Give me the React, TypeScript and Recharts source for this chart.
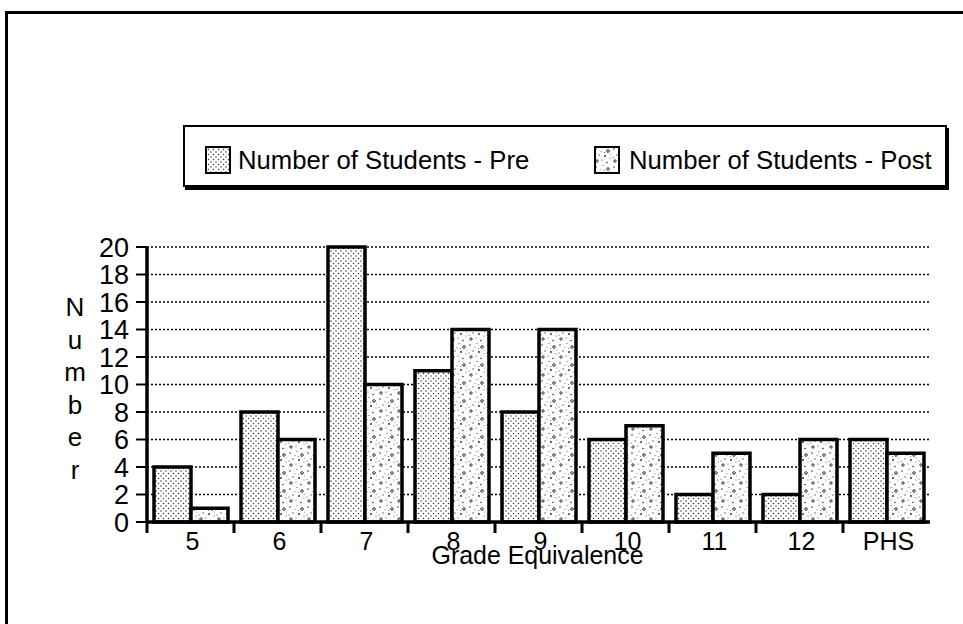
import { BarChart, Bar, XAxis, YAxis, CartesianGrid } from "recharts";

const grades = ["5", "6", "7", "8", "9", "10", "11", "12", "PHS"];
const preCounts = [4, 8, 20, 11, 8, 6, 2, 2, 6];
const postCounts = [1, 6, 10, 14, 14, 7, 5, 6, 5];
const yTicks = [0, 2, 4, 6, 8, 10, 12, 14, 16, 18, 20];
const seriesNames = ["Number of Students - Pre", "Number of Students - Post"];
const xTitle = "Grade Equivalence";
const yTitle = "Number";

const data = grades.map((g, i) => ({ grade: g, pre: preCounts[i], post: postCounts[i] }));

const FONT = "'Liberation Sans', Arial, Helvetica, sans-serif";

function GradeTick(props: any) {
  const { x, y, payload } = props;
  const half = payload && payload.offset ? payload.offset : 43.5;
  const edge = x - half;
  return (
    <g>
      <line x1={edge} x2={edge} y1={y - 11} y2={y + 1} stroke="#000" strokeWidth={3} />
      <text x={x + 2} y={y} dy="0.71em" textAnchor="middle" fontSize={25} fontFamily={FONT} fill="#000">
        {payload.value}
      </text>
    </g>
  );
}

function YTitle(props: any) {
  const vb = props.viewBox || { x: 87, y: 247 };
  return (
    <text fontSize={26} fontFamily={FONT} fill="#000" textAnchor="middle">
      {yTitle.split("").map((c, i) => (
        <tspan key={i} x={vb.x - 12} y={vb.y + 69 + i * 32.5}>
          {c}
        </tspan>
      ))}
    </text>
  );
}

function XTitle(props: any) {
  const vb = props.viewBox || { x: 147, y: 522, width: 783 };
  return (
    <text
      x={vb.x + vb.width / 2 - 1}
      y={vb.y + 42}
      textAnchor="middle"
      fontSize={25}
      fontFamily={FONT}
      fill="#000"
      textLength={212}
      lengthAdjust="spacingAndGlyphs"
    >
      {xTitle}
    </text>
  );
}

function Patterns() {
  return (
    <defs>
      <pattern id="pat-pre" width="5" height="5" patternUnits="userSpaceOnUse">
        <rect width="5" height="5" fill="#fff" />
        <circle cx="1" cy="1" r="0.75" fill="#333" />
        <circle cx="3.5" cy="3.5" r="0.75" fill="#333" />
      </pattern>
      <pattern id="pat-post" width="18" height="18" patternUnits="userSpaceOnUse">
        <rect width="18" height="18" fill="#fff" />
        <circle cx="2" cy="3" r="0.8" fill="#333" />
        <circle cx="9" cy="1.5" r="0.6" fill="#555" />
        <circle cx="14" cy="5" r="1.3" fill="none" stroke="#222" strokeWidth="0.9" />
        <circle cx="5" cy="9" r="0.7" fill="#444" />
        <circle cx="11" cy="10" r="0.9" fill="#222" />
        <circle cx="16" cy="12" r="0.6" fill="#555" />
        <circle cx="3" cy="15" r="1.2" fill="none" stroke="#222" strokeWidth="0.9" />
        <circle cx="8" cy="14" r="0.6" fill="#444" />
        <circle cx="13" cy="16.5" r="0.8" fill="#333" />
        <circle cx="7" cy="5.5" r="0.5" fill="#666" />
        <circle cx="16.5" cy="8" r="0.5" fill="#666" />
        <circle cx="10.5" cy="6.5" r="0.5" fill="#555" />
        <circle cx="1" cy="11" r="0.6" fill="#444" />
      </pattern>
    </defs>
  );
}

function LegendBox() {
  const sq = (id: string, left: number) => (
    <svg
      style={{ position: "absolute", left, top: 19, overflow: "visible" }}
      width={26}
      height={28}
    >
      <rect x={1} y={1} width={24} height={26} fill={`url(#${id})`} stroke="#000" strokeWidth={2} />
    </svg>
  );
  const label = (text: string, left: number) => (
    <span
      style={{
        position: "absolute",
        left,
        top: 18,
        fontFamily: FONT,
        fontSize: 25.7,
        lineHeight: "30px",
        whiteSpace: "nowrap",
        color: "#000",
      }}
    >
      {text}
    </span>
  );
  return (
    <div
      style={{
        position: "absolute",
        left: 183,
        top: 125,
        width: 760,
        height: 58,
        border: "2px solid #000",
        boxShadow: "2px 3px 0 #000",
        background: "#fff",
      }}
    >
      {sq("pat-pre", 20)}
      {label(seriesNames[0], 53)}
      {sq("pat-post", 409)}
      {label(seriesNames[1], 444)}
    </div>
  );
}

export default function App() {
  return (
    <div style={{ position: "absolute", left: 0, top: 0, width: 963, height: 624, background: "#fff", overflow: "hidden" }}>
      <div
        style={{
          position: "absolute",
          left: 5,
          top: 11,
          width: 970,
          height: 640,
          borderLeft: "3px solid #000",
          borderTop: "3px solid #000",
        }}
      />
      <BarChart
        width={963}
        height={624}
        data={data}
        margin={{ top: 247, right: 33, bottom: 72, left: 87 }}
        barCategoryGap={7}
        barGap={0}
        style={{ position: "absolute", left: 0, top: 0 }}
      >
        <Patterns />
        <CartesianGrid vertical={false} stroke="#000" strokeWidth={1.5} strokeDasharray="2 2" />
        <XAxis
          dataKey="grade"
          height={30}
          tickSize={10}
          tickMargin={0}
          tickLine={false}
          axisLine={{ stroke: "#000", strokeWidth: 3.5 }}
          tick={<GradeTick />}
          interval={0}
          label={{ content: <XTitle /> }}
        />
        <YAxis
          width={60}
          domain={[0, 20]}
          ticks={yTicks}
          interval={0}
          tickSize={11}
          tickMargin={7}
          axisLine={{ stroke: "#000", strokeWidth: 3.5 }}
          tickLine={{ stroke: "#000", strokeWidth: 2 }}
          tick={{ fill: "#000", fontSize: 27, fontFamily: FONT }}
          label={{ content: <YTitle /> }}
        />
        <Bar dataKey="pre" name={seriesNames[0]} fill="url(#pat-pre)" stroke="#000" strokeWidth={3.5} isAnimationActive={false} />
        <Bar dataKey="post" name={seriesNames[1]} fill="url(#pat-post)" stroke="#000" strokeWidth={3.5} isAnimationActive={false} />
      </BarChart>
      <LegendBox />
    </div>
  );
}
